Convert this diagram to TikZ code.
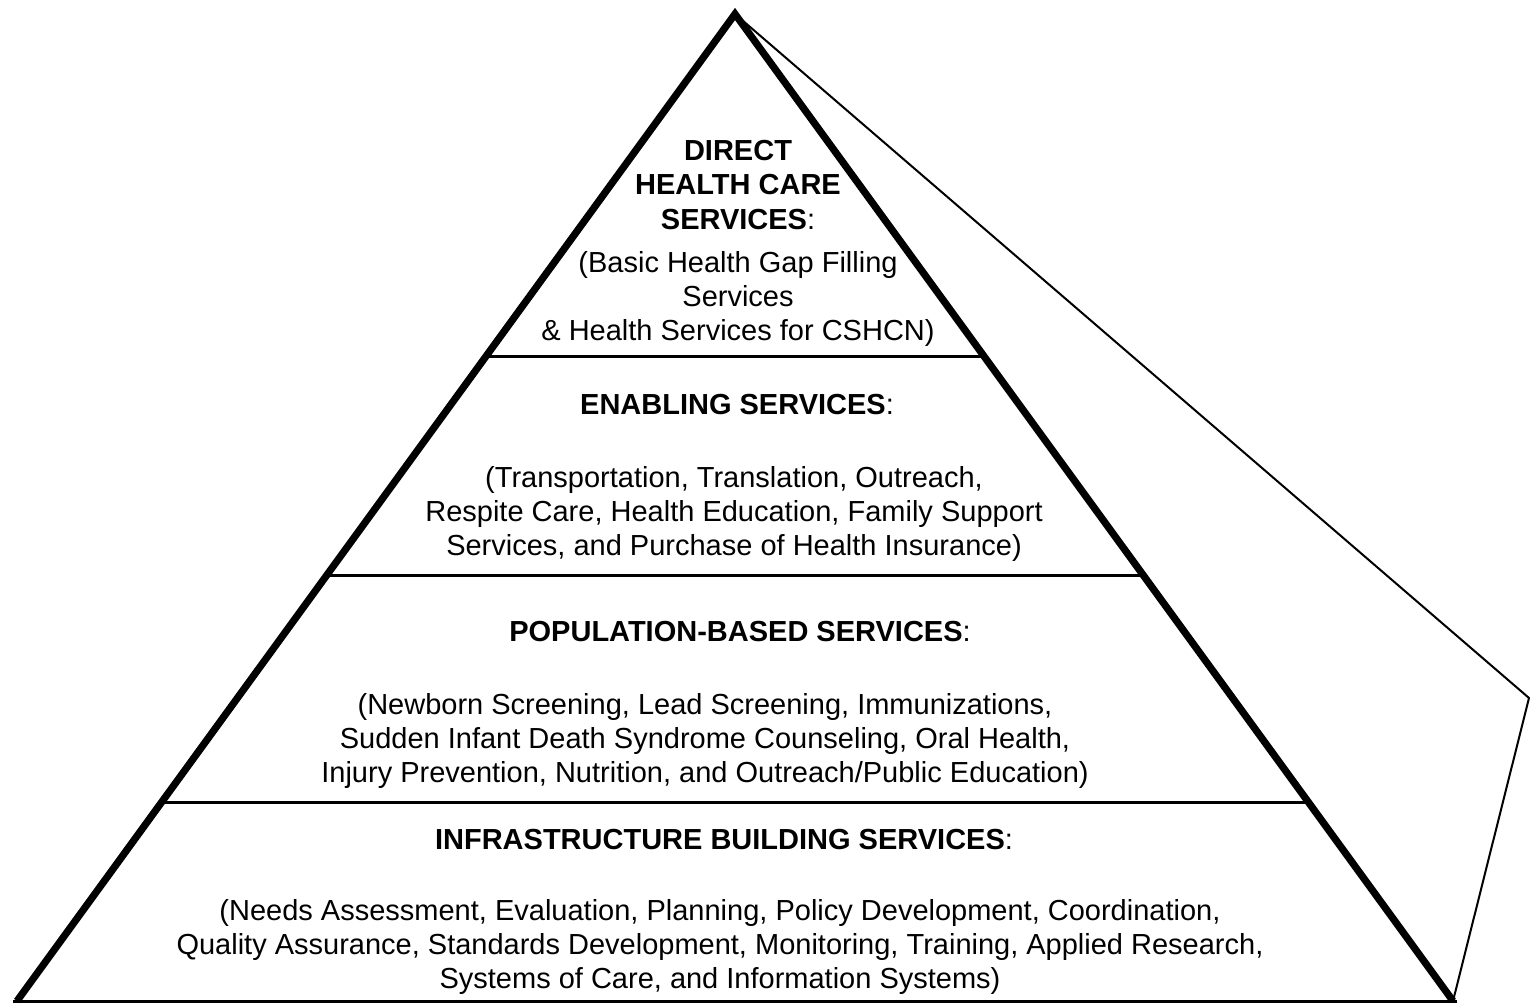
\documentclass[tikz,border=0pt]{standalone}
\usepackage{fontspec}
\setmainfont{Liberation Sans}
\usetikzlibrary{calc}
\begin{document}
\begin{tikzpicture}[x=0.5pt,y=-0.5pt,
  txt/.style={align=center, font=\fontsize{14.5}{17.2}\selectfont, inner sep=0pt},
  thickside/.style={line width=3.6pt, line join=miter},
  divider/.style={line width=1.5pt},
  thinside/.style={line width=1pt, line join=miter}]
\useasboundingbox (0,0) rectangle (1530,1004);
\coordinate (apex) at (735,14);
\coordinate (bl) at (17,1001);
\coordinate (br) at (1453,1001);
\coordinate (far) at (1529,698);
\draw[thinside] (apex) -- (far) -- (br);
\draw[divider] ($(bl)+(-4,0)$) -- ($(br)+(4,0)$);
\foreach \yy in {357,576,803}{
  \pgfmathsetmacro{\tt}{(\yy-14)/987}
  \draw[divider] ($(apex)!\tt!(bl)$) -- ($(apex)!\tt!(br)$);
}
\draw[thickside] (bl) -- (apex) -- (br);

\node[txt] (h1) at (738,185) {\textbf{DIRECT}\\\textbf{HEALTH CARE}\\\textbf{SERVICES}:};
\node[txt] (d1) at (738,299) {(Basic Health Gap Filling\\Services\\\& Health Services for CSHCN)};
\node[txt] (h2) at (737,405) {\textbf{ENABLING SERVICES}:};
\node[txt] (d2) at (734,514) {(Transportation, Translation, Outreach,\\Respite Care, Health Education, Family Support\\Services, and Purchase of Health Insurance)};
\node[txt] (h3) at (740,632) {\textbf{POPULATION-BASED SERVICES}:};
\node[txt] (d3) at (705,741) {(Newborn Screening, Lead Screening, Immunizations,\\Sudden Infant Death Syndrome Counseling, Oral Health,\\Injury Prevention, Nutrition, and Outreach/Public Education)};
\node[txt] (h4) at (724,840) {\textbf{INFRASTRUCTURE BUILDING SERVICES}:};
\node[txt] (d4) at (720,947) {(Needs Assessment, Evaluation, Planning, Policy Development, Coordination,\\Quality Assurance, Standards Development, Monitoring, Training, Applied Research,\\Systems of Care, and Information Systems)};
\end{tikzpicture}
\end{document}
